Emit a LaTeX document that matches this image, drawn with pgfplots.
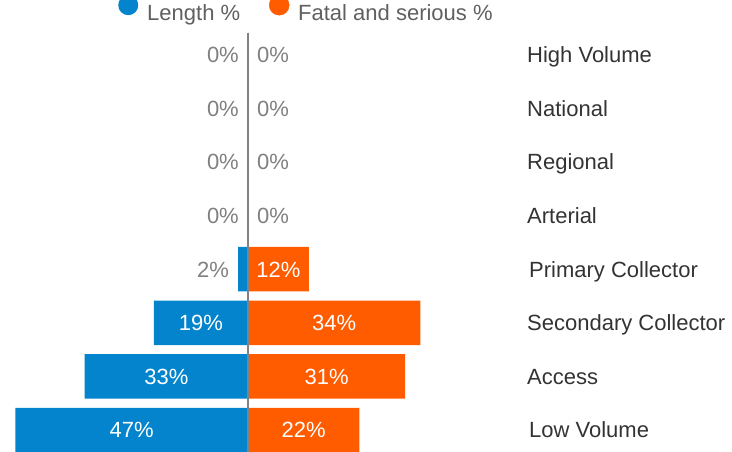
\documentclass[border=0pt]{standalone}
\usepackage{pgfplots}
\pgfplotsset{compat=1.18}
\usepackage{fontspec}
\setmainfont{Liberation Sans}

\definecolor{lenblue}{RGB}{3,132,205}
\definecolor{fatorange}{RGB}{255,92,0}
\definecolor{valgray}{RGB}{128,128,128}
\definecolor{cattext}{RGB}{51,51,51}
\definecolor{legtext}{RGB}{96,96,96}
\definecolor{linegray}{RGB}{130,130,130}

\newcommand{\bigfs}{\fontsize{22}{26}\selectfont}

\tikzset{
  outl/.style={font=\bigfs, text=valgray, inner sep=0pt, yshift=-7.9pt},
  inl/.style={font=\bigfs, text=white, inner sep=0pt, anchor=base, yshift=-7.9pt},
  catl/.style={font=\bigfs, text=cattext, inner sep=0pt, anchor=base west, xshift=279pt, yshift=-7.9pt},
}

\pgfplotsset{
  halfaxis/.style={
    scale only axis, height=452pt,
    ymin=-0.41, ymax=8.02,
    hide axis, clip=false,
    xbar, bar width=0.83, bar shift=0pt,
  },
}

\begin{document}
\begin{tikzpicture}
\useasboundingbox (0,0) rectangle (732pt,452pt);

% left half: Length %
\begin{axis}[halfaxis,
    at={(0pt,0pt)}, anchor=south west,
    width=248pt, xmin=-50.1, xmax=0,
    legend columns=2,
    legend style={at={(0.476,1.0)}, anchor=north west, draw=none, fill=none,
      inner sep=0pt, font=\bigfs, text=legtext,
      nodes={inner sep=0pt},
      /tikz/every odd column/.append style={column sep=9pt},
      /tikz/every even column/.append style={column sep=29pt}},
  ]
  \addplot[fill=lenblue, draw=none,
    legend image code/.code={\path[draw=none, fill=none] (0pt,-7pt) rectangle (20pt,13pt);
      \fill[lenblue, overlay] (10pt,8pt) circle (10pt);}]
    coordinates {(0,7) (0,6) (0,5) (0,4) (-2,3) (-19,2) (-33,1) (-47,0)};
  \addlegendentry{Length \%}
  \addlegendimage{legend image code/.code={\path[draw=none, fill=none] (0pt,-7pt) rectangle (20pt,13pt);
      \fill[fatorange, overlay] (10pt,8pt) circle (10pt);}}
  \addlegendentry{Fatal and serious \%}

  \node[outl, anchor=base east, xshift=-9pt] at (axis cs:0,7) {0\%};
  \node[outl, anchor=base east, xshift=-9pt] at (axis cs:0,6) {0\%};
  \node[outl, anchor=base east, xshift=-9pt] at (axis cs:0,5) {0\%};
  \node[outl, anchor=base east, xshift=-9pt] at (axis cs:0,4) {0\%};
  \node[outl, anchor=base east, xshift=-9pt] at (axis cs:-2,3) {2\%};
  \node[inl] at (axis cs:-9.5,2) {19\%};
  \node[inl] at (axis cs:-16.5,1) {33\%};
  \node[inl] at (axis cs:-23.5,0) {47\%};
\end{axis}

% right half: Fatal and serious %
\begin{axis}[halfaxis,
    at={(248pt,0pt)}, anchor=south west,
    width=484pt, xmin=0, xmax=95.5,
  ]
  \addplot[fill=fatorange, draw=none]
    coordinates {(0,7) (0,6) (0,5) (0,4) (12,3) (34,2) (31,1) (22,0)};

  \node[outl, anchor=base west, xshift=9pt] at (axis cs:0,7) {0\%};
  \node[outl, anchor=base west, xshift=9pt] at (axis cs:0,6) {0\%};
  \node[outl, anchor=base west, xshift=9pt] at (axis cs:0,5) {0\%};
  \node[outl, anchor=base west, xshift=9pt] at (axis cs:0,4) {0\%};
  \node[inl] at (axis cs:6,3) {12\%};
  \node[inl] at (axis cs:17,2) {34\%};
  \node[inl] at (axis cs:15.5,1) {31\%};
  \node[inl] at (axis cs:11,0) {22\%};

  \node[catl] at (axis cs:0,7) {High Volume};
  \node[catl] at (axis cs:0,6) {National};
  \node[catl] at (axis cs:0,5) {Regional};
  \node[catl] at (axis cs:0,4) {Arterial};
  \node[catl, xshift=2pt] at (axis cs:0,3) {Primary Collector};
  \node[catl] at (axis cs:0,2) {Secondary Collector};
  \node[catl] at (axis cs:0,1) {Access};
  \node[catl, xshift=2pt] at (axis cs:0,0) {Low Volume};

  \draw[linegray, line width=2pt] (axis cs:0,-0.6) -- (axis cs:0,7.41);
\end{axis}
\end{tikzpicture}
\end{document}
